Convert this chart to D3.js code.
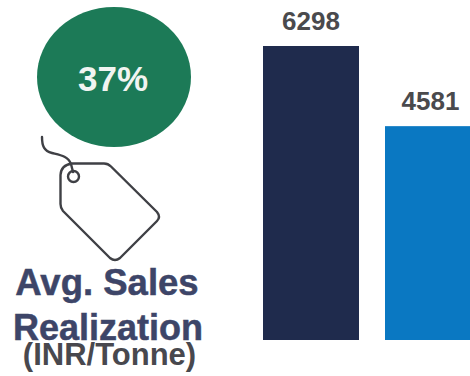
<!DOCTYPE html>
<html>
<head>
<meta charset="utf-8">
<title>Avg. Sales Realization</title>
<script src="https://cdn.jsdelivr.net/npm/d3@7"></script>
<style>
  html, body { margin: 0; padding: 0; background: #fff; overflow: hidden; }
  svg { display: block; }
  text { font-family: "Liberation Sans", Arial, sans-serif; font-weight: 700; }
</style>
</head>
<body>
<div id="chart"></div>
<script>
// Realization per tonne for the two periods, latest first
const periods = ["Current", "Previous"];
const realization = [6298, 4581];
const barColors = ["#1f2b4d", "#0a78c2"];
const growthLabel = "37%";
const titleLines = ["Avg. Sales", "Realization"];
const unitLabel = "(INR/Tonne)";

const width = 470, height = 376;
const baseline = 340, topY = 46;

const svg = d3.select("#chart").append("svg")
  .attr("width", width).attr("height", height)
  .attr("viewBox", [0, 0, width, height]);

const x = d3.scaleBand().domain(periods).range([263, 481]).paddingInner(26 / 122).paddingOuter(0);
const y = d3.scaleLinear().domain([0, d3.max(realization)]).range([baseline, topY]);

// Bars
svg.selectAll("rect.bar").data(periods).join("rect")
  .attr("class", "bar")
  .attr("x", d => x(d))
  .attr("y", (d, i) => y(realization[i]))
  .attr("width", x.bandwidth())
  .attr("height", (d, i) => baseline - y(realization[i]))
  .attr("fill", (d, i) => barColors[i]);

// Value labels above the bars
svg.selectAll("text.value").data(periods).join("text")
  .attr("class", "value")
  .attr("x", (d, i) => x(d) + x.bandwidth() / 2 - (i === 1 ? 2.5 : 0))
  .attr("y", (d, i) => y(realization[i]) - 16)
  .attr("text-anchor", "middle")
  .attr("font-size", 26)
  .attr("fill", "#4a4a4d")
  .text((d, i) => realization[i]);

// Growth badge
svg.append("ellipse")
  .attr("cx", 114).attr("cy", 77).attr("rx", 77).attr("ry", 70)
  .attr("fill", "#1c7a57");
svg.append("text")
  .attr("x", 113).attr("y", 91)
  .attr("text-anchor", "middle")
  .attr("font-size", 35)
  .attr("fill", "#f1f4f1")
  .text(growthLabel);

// Price tag icon with its string
const icon = svg.append("g")
  .attr("fill", "none").attr("stroke", "#3f4045")
  .attr("stroke-width", 2.4).attr("stroke-linejoin", "round").attr("stroke-linecap", "round");
icon.append("path")
  .attr("d", "M72 163.5 L104 163.5 Q108 163.5 111 166.5 L157 212 Q161 217 157 221 L120 258 Q115 262 110 258 L63 211 Q60.5 208 60.5 204 L60.5 175 Q61 165 72 163.5 Z");
icon.append("circle").attr("cx", 73.5).attr("cy", 176.5).attr("r", 5.5);
icon.append("path")
  .attr("d", "M42 137 C42 146 44 151 52 153 C60 155 68 156 71 164 L73 172");

// Title and unit
svg.selectAll("text.title").data(titleLines).join("text")
  .attr("class", "title")
  .attr("x", (d, i) => i === 0 ? 107 : 108)
  .attr("y", (d, i) => i === 0 ? 295 : 340)
  .attr("text-anchor", "middle")
  .attr("font-size", (d, i) => i === 0 ? 36.5 : 36)
  .attr("fill", "#3d4568")
  .attr("stroke", "#3d4568").attr("stroke-width", 0.5)
  .text(d => d);
svg.append("text")
  .attr("x", 109.5).attr("y", 365)
  .attr("text-anchor", "middle")
  .attr("font-size", 31)
  .attr("fill", "#48484e")
  .text(unitLabel);
</script>
</body>
</html>
